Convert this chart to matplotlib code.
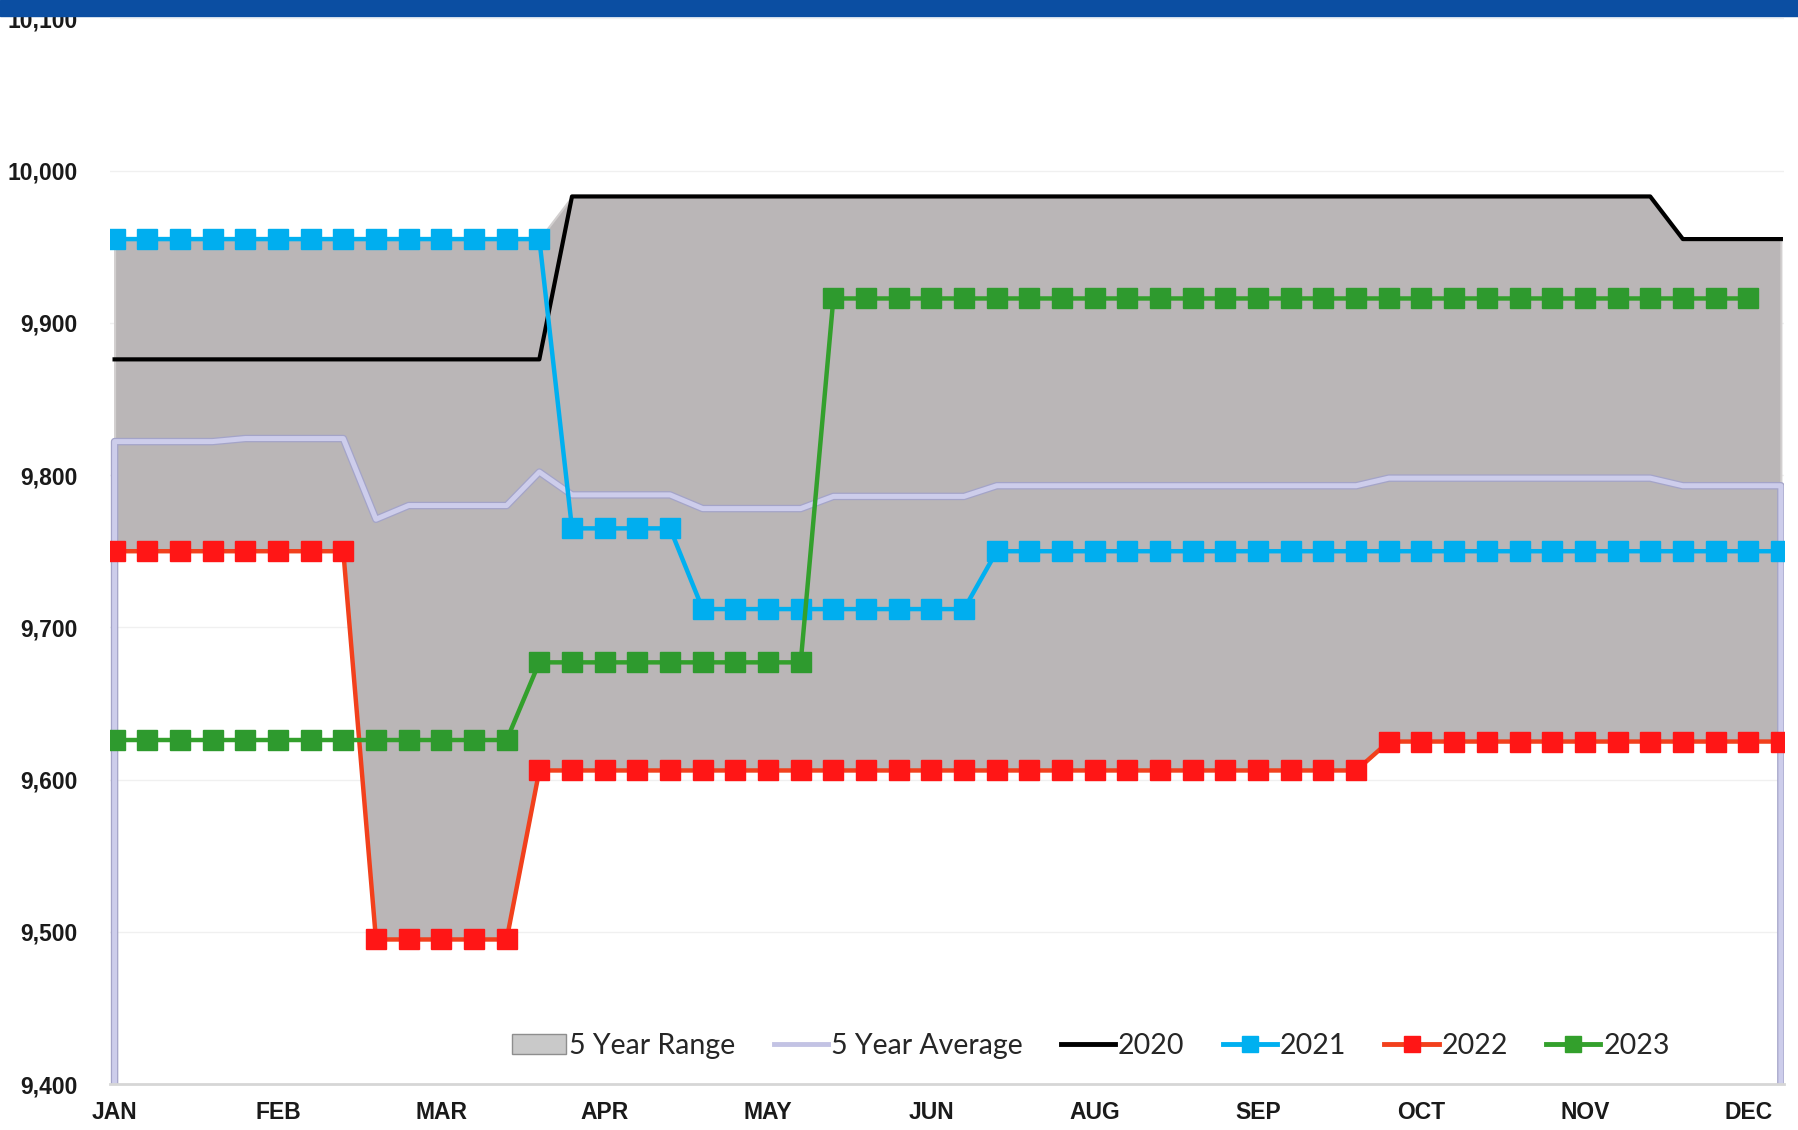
import numpy as np
import matplotlib
matplotlib.use("Agg")
import matplotlib.pyplot as plt
import matplotlib.patheffects as pe
from matplotlib.patches import Patch, Rectangle
from matplotlib.lines import Line2D

# weekly values, week 0 = first week of JAN
weeks = np.arange(52)
month_labels = ["JAN", "FEB", "MAR", "APR", "MAY", "JUN", "AUG", "SEP", "OCT", "NOV", "DEC"]
month_weeks = [0, 5, 10, 15, 20, 25, 30, 35, 40, 45, 50]

range_hi = [9955] * 14 + [9983] * 34 + [9955] * 4
range_lo = [9750] * 8 + [9495] * 5 + [9606] * 26 + [9625] * 13
avg5 = ([9822] * 4 + [9824] * 4 + [9771] + [9780] * 4 + [9802] + [9787] * 4
        + [9778] * 4 + [9786] * 5 + [9793] * 12 + [9798] * 9 + [9793] * 4)
y2020 = [9876] * 14 + [9983] * 34 + [9955] * 4
y2021 = [9955] * 14 + [9765] * 4 + [9712] * 9 + [9750] * 25
y2022 = [9750] * 8 + [9495] * 5 + [9606] * 26 + [9625] * 13
y2023 = [9626] * 13 + [9677] * 9 + [9916] * 29

fig = plt.figure(figsize=(17.98, 11.30), dpi=100)
ax = fig.add_axes([0.0610, 0.0406, 0.9313, 0.9432])

# 5 year range band
ax.fill_between(weeks, range_lo, range_hi, color="#BAB6B7", edgecolor="#D2CFCF",
                linewidth=1.5, zorder=1)

# 5 year average drawn as an outlined area (edges drop to the axis)
avg_x = np.concatenate([[0], weeks, [weeks[-1]]])
avg_y = np.concatenate([[9400], avg5, [9400]])
ax.plot(avg_x, avg_y, color="#CDCDEB", lw=3.6, zorder=2, solid_joinstyle="round",
        path_effects=[pe.Stroke(linewidth=5.4, foreground="#A4A4C8"), pe.Normal()])

ax.plot(weeks, y2020, color="black", lw=3.0, zorder=3)
ax.plot(weeks, y2021, color="#00B0F0", lw=3.2, marker="s", ms=14,
        mfc="#00AEEF", mec="#00AEEF", zorder=4)
ax.plot(weeks, y2022, color="#F2401C", lw=3.2, marker="s", ms=14,
        mfc="#FF1616", mec="#FF1616", zorder=5)
ax.plot(np.arange(len(y2023)), y2023, color="#33A02C", lw=3.2, marker="s", ms=14,
        mfc="#2E9A2E", mec="#2E9A2E", zorder=6)

ax.set_xlim(-0.15, 51.1)
ax.set_ylim(9400, 10100)
ax.set_yticks(np.arange(9400, 10101, 100))
ax.set_yticklabels([f"{v:,}" for v in range(9400, 10101, 100)])
ax.set_xticks(month_weeks)
ax.set_xticklabels(month_labels)
ax.tick_params(axis="y", length=0, pad=23, labelsize=16.5, labelcolor="#1a1a1a")
ax.tick_params(axis="x", length=0, pad=12, labelsize=16.5, labelcolor="#1a1a1a")
for lab in ax.get_xticklabels() + ax.get_yticklabels():
    lab.set_fontfamily("Liberation Sans")
    lab.set_fontweight("bold")

ax.grid(axis="y", color="#F0F0F0", lw=1, zorder=0)
ax.set_axisbelow(True)
for s in ["top", "left", "right"]:
    ax.spines[s].set_visible(False)
ax.spines["bottom"].set_color("#D6D6D6")
ax.spines["bottom"].set_linewidth(2)

handles = [
    Patch(facecolor="#C9C9C9", edgecolor="#8E8E8E", label="5 Year Range"),
    Line2D([], [], color="#C3C3E4", lw=3.5, label="5 Year Average"),
    Line2D([], [], color="black", lw=3.5, label="2020"),
    Line2D([], [], color="#00B0F0", lw=3.5, marker="s", ms=11, label="2021"),
    Line2D([], [], color="#F2401C", lw=3.5, marker="s", ms=11, mfc="#FF1616",
           mec="#FF1616", label="2022"),
    Line2D([], [], color="#33A02C", lw=3.5, marker="s", ms=11, label="2023"),
]
ax.legend(handles=handles, loc="center", bbox_to_anchor=(0.586, 0.036), ncol=6,
          frameon=False, handlelength=1.9, handletextpad=0.1, columnspacing=1.35,
          numpoints=1, prop={"family": "Lato", "size": 20.5}, labelcolor="#262626")

# blue strip along the top edge
fig.add_artist(Rectangle((0, 1 - 0.0142), 1, 0.0142, transform=fig.transFigure,
                         color="#0B4EA2", zorder=10))

fig.savefig("out.png", dpi=100)
